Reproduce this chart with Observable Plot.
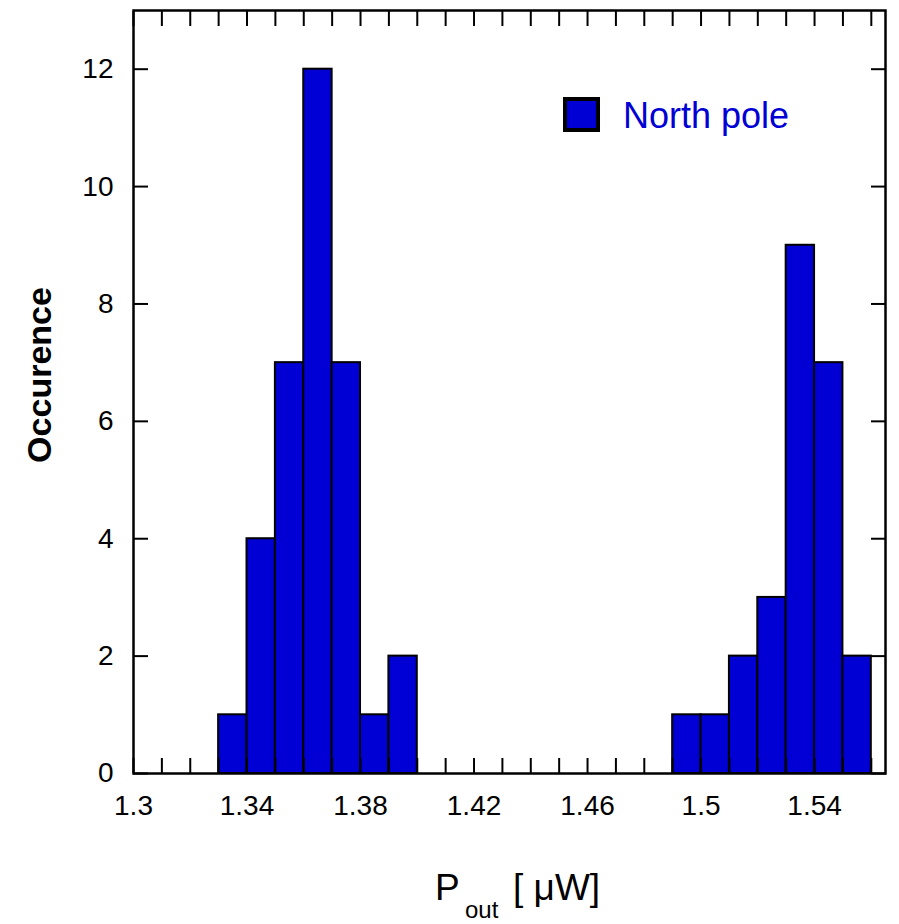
<!DOCTYPE html>
<html>
<head>
<meta charset="utf-8">
<script src="https://cdn.jsdelivr.net/npm/d3@7"></script>
<script src="https://cdn.jsdelivr.net/npm/@observablehq/plot@0.6"></script>
<style>
  html, body { margin: 0; padding: 0; background: white; }
  #chart { position: relative; width: 899px; height: 924px; }
</style>
</head>
<body>
<div id="chart"></div>
<script>
// Histogram bins (left edge, width) and occurrence counts
const binLeft = [1.33, 1.34, 1.35, 1.36, 1.37, 1.38, 1.39, 1.49, 1.50, 1.51, 1.52, 1.53, 1.54, 1.55];
const counts  = [1, 4, 7, 12, 7, 1, 2, 1, 1, 2, 3, 9, 7, 2];
const binWidth = 0.01;
const xTickLabels = [1.3, 1.34, 1.38, 1.42, 1.46, 1.5, 1.54];
const xMinorTicks = d3.range(130, 157).map(i => i / 100);
const yTickLabels = [0, 2, 4, 6, 8, 10, 12];
const seriesName = "North pole";
const xLabelMain = "P", xLabelSub = "out", xLabelUnit = "[ \u03BCW]";
const yLabel = "Occurence";

const bins = binLeft.map((x, i) => ({x1: x, x2: +(x + binWidth).toFixed(2), y: counts[i]}));
const blue = "#0000d4";
const ff = "'Liberation Sans', Arial, sans-serif";

const plot = Plot.plot({
  width: 899,
  height: 924,
  marginLeft: 133,
  marginRight: 14,
  marginTop: 10,
  marginBottom: 151,
  style: {fontFamily: ff, fontSize: "28px", color: "black", background: "white"},
  x: {domain: [1.3, 1.565]},
  y: {domain: [0, 13]},
  marks: [
    Plot.rectY(bins, {x1: "x1", x2: "x2", y: "y", fill: blue, stroke: "black", strokeWidth: 2}),
    Plot.frame({stroke: "black", strokeWidth: 2.5}),
    Plot.axisX({anchor: "bottom", ticks: xMinorTicks, tickSize: -15, tickFormat: () => "", strokeWidth: 2, label: null}),
    Plot.axisX({anchor: "top", ticks: xMinorTicks, tickSize: -15, tickFormat: () => "", strokeWidth: 2, label: null}),
    Plot.axisX({anchor: "bottom", ticks: xTickLabels, tickSize: 0, tickPadding: 22, fontSize: 28, tickFormat: d => String(d), label: null}),
    Plot.axisY({anchor: "left", ticks: yTickLabels, tickSize: -15, tickFormat: () => "", strokeWidth: 2, label: null}),
    Plot.axisY({anchor: "right", ticks: yTickLabels, tickSize: -15, tickFormat: () => "", strokeWidth: 2, label: null}),
    Plot.axisY({anchor: "left", ticks: yTickLabels, tickSize: 0, tickPadding: 20, fontSize: 28, tickFormat: d => String(d), label: null})
  ]
});

document.getElementById("chart").appendChild(plot);

const svg = d3.select(plot);

// x-axis label with subscript
const xl = svg.append("g").attr("font-family", ff).attr("fill", "black").attr("text-anchor", "start");
xl.append("text").attr("x", 435).attr("y", 900).attr("font-size", 37).text(xLabelMain);
xl.append("text").attr("x", 465).attr("y", 918).attr("font-size", 24).text(xLabelSub);
xl.append("text").attr("x", 513).attr("y", 900).attr("font-size", 37).text(xLabelUnit);

// y-axis label
svg.append("text")
  .attr("transform", "translate(51,375) rotate(-90)")
  .attr("text-anchor", "middle")
  .attr("font-family", ff)
  .attr("font-weight", "bold")
  .attr("font-size", 34)
  .attr("fill", "black")
  .text(yLabel);

// legend
const lg = svg.append("g");
lg.append("rect").attr("x", 565).attr("y", 99).attr("width", 33).attr("height", 31)
  .attr("fill", blue).attr("stroke", "black").attr("stroke-width", 4);
lg.append("text").attr("x", 623).attr("y", 128).attr("text-anchor", "start").attr("font-family", ff).attr("font-size", 36)
  .attr("fill", blue).text(seriesName);
</script>
</body>
</html>
